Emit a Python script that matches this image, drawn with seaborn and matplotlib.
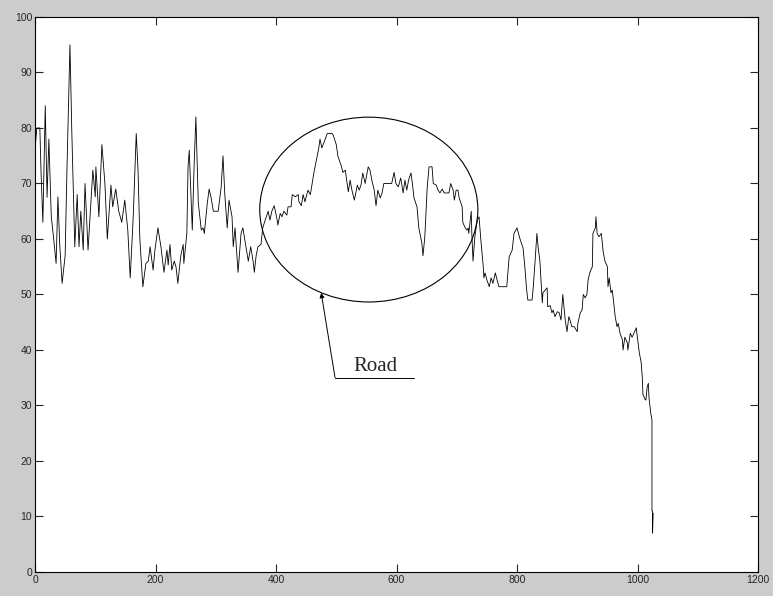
import numpy as np
import pandas as pd
import matplotlib
matplotlib.use("Agg")
import matplotlib.pyplot as plt
from matplotlib.patches import Ellipse
import seaborn as sns

# sample index / value
sample_x = [
    0, 3, 8, 10, 13, 17, 20, 23, 27, 31, 35, 38, 41, 45, 50, 53, 58, 61, 66, 70,
    73, 76, 80, 83, 88, 93, 96, 100, 101, 106, 111, 116, 120, 126, 129, 134, 139, 144, 149, 154,
    158, 163, 168, 171, 174, 179, 184, 188, 191, 196, 199, 204, 209, 214, 219, 221, 224, 227, 231, 234,
    237, 242, 246, 247, 252, 254, 256, 261, 264, 267, 271, 276, 279, 281, 286, 289, 292, 296, 304, 309,
    312, 315, 319, 322, 327, 329, 332, 337, 342, 345, 350, 354, 358, 362, 364, 367, 370, 375, 378, 382,
    387, 390, 393, 397, 402, 403, 407, 410, 413, 418, 420, 425, 427, 432, 437, 438, 442, 445, 448, 453,
    457, 460, 463, 468, 471, 473, 476, 480, 485, 493, 495, 500, 503, 508, 511, 515, 518, 520, 523, 526,
    530, 535, 538, 541, 544, 548, 553, 556, 559, 563, 566, 569, 573, 576, 579, 592, 596, 599, 603, 607,
    611, 614, 617, 620, 624, 627, 629, 634, 637, 642, 644, 647, 651, 654, 659, 661, 666, 669, 672, 676,
    679, 687, 690, 694, 696, 699, 702, 704, 709, 710, 714, 717, 719, 720, 724, 725, 727, 730, 734, 737,
    740, 744, 745, 747, 750, 754, 757, 760, 764, 767, 770, 783, 787, 792, 795, 800, 805, 810, 813, 816,
    818, 825, 827, 830, 833, 835, 838, 842, 843, 847, 850, 851, 855, 858, 860, 863, 867, 870, 873, 876,
    880, 883, 886, 888, 891, 895, 900, 901, 905, 908, 910, 913, 916, 918, 921, 925, 926, 930, 931, 933,
    936, 940, 943, 946, 950, 951, 953, 956, 958, 960, 963, 966, 968, 971, 975, 976, 979, 983, 984, 988,
    991, 994, 998, 999, 1003, 1006, 1008, 1009, 1013, 1014, 1016, 1018, 1019, 1022, 1024, 1024, 1025, 1025, 1026,
]
sample_y = [
    76, 80, 80, 72, 63, 84, 67.5, 78, 64, 60, 55.6, 67.6, 59, 52, 57, 72.5, 95, 79.6, 58.6, 68,
    58.6, 65, 58, 70, 58, 67, 72.4, 67.6, 73, 64, 77, 70, 60, 69.7, 65.8, 69, 65, 63, 67, 61.6,
    53, 64, 79, 72.4, 60, 51.4, 55.6, 56, 58.6, 54.4, 58, 62, 58.6, 54, 58, 55.3, 59, 54.4, 56, 55,
    52, 57, 59, 55.6, 61, 73, 76, 61.6, 73, 82, 66.5, 61.6, 62, 61, 66.5, 69, 67.6, 65, 65, 69.4,
    75, 68, 62, 67, 64, 58.6, 62, 54, 61, 62, 58.6, 56, 58.6, 56, 54, 57, 58.6, 59, 62, 63.4,
    65, 63.4, 65, 66, 63.4, 62.5, 64.6, 64, 65, 64.3, 65.8, 65.8, 68, 67.6, 68, 66.7, 66, 68, 66.7, 68.8,
    68, 70, 72, 74.8, 76.4, 78, 76.4, 77.5, 79, 79, 78.7, 77, 74.8, 73.3, 72, 72.4, 70, 68.5, 70.6, 68.8,
    67, 69.7, 68.8, 69.7, 71.9, 70, 73, 72.4, 70.6, 68.8, 66, 68.8, 67.4, 68.3, 70, 70, 72, 70, 69.4, 71,
    68.3, 70.6, 68.8, 70.6, 71.9, 69.4, 67.4, 65.8, 62, 59.3, 57, 60.4, 69.4, 73, 73, 70, 69.7, 68.8, 68.3, 69,
    68.3, 68.3, 70, 68.8, 67, 68.8, 68.8, 67.4, 65.8, 63, 62, 61.6, 62, 61, 65, 61, 56, 60.4, 63.4, 64,
    59.8, 55, 53, 53.9, 52.6, 51.4, 53, 52, 53.9, 52.6, 51.4, 51.4, 56.8, 58, 61, 62, 60, 58.4, 55, 50.8,
    49, 49, 51.4, 56, 61, 58.6, 56, 48.5, 50.3, 50.8, 51.2, 47.8, 48, 46.7, 47.2, 46, 46.9, 46.7, 45.4, 50,
    45.4, 43.3, 46, 45.4, 44.2, 44.2, 43.3, 44.8, 46.7, 47.2, 50, 49.4, 50, 52.6, 54, 55, 61, 62, 64, 61,
    60.4, 61, 57.7, 56, 55, 51.4, 53, 50.3, 50.8, 49, 46, 44.2, 44.8, 43, 41.8, 40, 42.3, 41.3, 40, 43,
    42.3, 43, 44, 43, 39.5, 37.8, 35, 32, 31, 31, 33.3, 34, 31.5, 28.6, 27.4, 11, 11, 7, 10.6,
]

# annotation
ellipse_center = (554, 65.3)
ellipse_size = (362, 33.3)
label_text = "Road"
arrow_tail = (498, 35)
arrow_head = (475, 50.3)
underline_end = 629

df = pd.DataFrame({"x": sample_x, "y": sample_y})

sns.set_style("ticks")
plt.rcParams["font.family"] = ["Liberation Sans Narrow", "Liberation Sans", "DejaVu Sans"]

fig = plt.figure(figsize=(7.73, 5.96), dpi=100, facecolor="#cccccc")
ax = fig.add_axes([0.0453, 0.0403, 0.9353, 0.9312])
ax.set_facecolor("white")

sns.lineplot(data=df, x="x", y="y", ax=ax, color="black", linewidth=0.6,
             sort=False, estimator=None)

ax.add_patch(Ellipse(ellipse_center, ellipse_size[0], ellipse_size[1],
                     fill=False, edgecolor="black", linewidth=0.8))
ax.annotate("", xy=arrow_head, xytext=arrow_tail,
            arrowprops=dict(arrowstyle="-|>", color="black", lw=0.7,
                            mutation_scale=7, shrinkA=0, shrinkB=0))
ax.plot([arrow_tail[0], underline_end], [arrow_tail[1], arrow_tail[1]],
        color="black", linewidth=0.7)
ax.text((arrow_tail[0] + underline_end) / 2 + 1, arrow_tail[1] + 0.3, label_text,
        ha="center", va="bottom", fontsize=15, family=["Liberation Serif"])

ax.set_xlim(0, 1200)
ax.set_ylim(0, 100)
ax.set_xticks(np.arange(0, 1201, 200))
ax.set_yticks(np.arange(0, 101, 10))
ax.set_xlabel("")
ax.set_ylabel("")
ax.tick_params(direction="in", length=6, width=0.8, labelsize=7.5,
               top=True, right=True, pad=2)
for s in ax.spines.values():
    s.set_visible(True)
    s.set_color("black")
    s.set_linewidth(0.8)

fig.savefig("out.png", dpi=100, facecolor=fig.get_facecolor())
